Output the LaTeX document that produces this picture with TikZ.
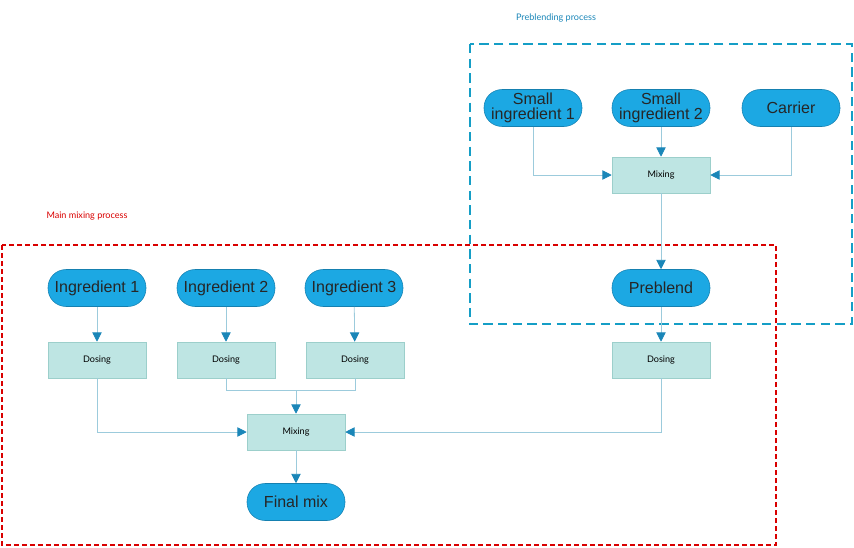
\documentclass[tikz,border=0pt]{standalone}
\usepackage{fontspec}
\setmainfont{Liberation Sans}
\newfontfamily\lato{Lato}
\usetikzlibrary{arrows.meta}
\definecolor{pill}{HTML}{1CA8E3}
\definecolor{pillb}{HTML}{1580B0}
\definecolor{boxf}{HTML}{BEE5E3}
\definecolor{boxb}{HTML}{9CCFCB}
\definecolor{ln}{HTML}{9CCBDC}
\definecolor{arr}{HTML}{1A86B8}
\begin{document}
\begin{tikzpicture}[x=0.75pt,y=-0.75pt,
 pillnode/.style={draw=pillb,fill=pill,rounded corners=13.5pt,minimum width=73.5pt,minimum height=27.75pt,inner sep=0pt,align=center,font=\fontsize{12}{11}\selectfont,text=black!85},
 box/.style={draw=boxb,fill=boxf,minimum width=73.5pt,minimum height=27pt,inner sep=0pt,font=\lato\fontsize{6.8}{8}\selectfont},
 con/.style={draw=ln,line width=0.6pt},
 ar/.style={con,-{Triangle[length=7pt,width=7pt,color=arr]}},
 lab/.style={font=\lato\fontsize{6.8}{8}\selectfont}]
\useasboundingbox (0,0) rectangle (854,547);
\draw[red!85!black,dashed,line width=0.8pt,dash pattern=on 4pt off 2pt] (2,245) rectangle (776,545);
\draw[arr!80!cyan,line width=1.5pt,dash pattern=on 7pt off 4pt] (470,44) rectangle (852,324);
\node[lab,text=red!85!black] (lm) at (87,216) {Main mixing process};
\node[lab,text=arr] (lp) at (556,18) {Preblending process};
\node[pillnode] (s1) at (533,108) {Small\\ingredient 1};
\node[pillnode] (s2) at (661,108) {Small\\ingredient 2};
\node[pillnode] (c) at (791,108) {Carrier};
\node[box] (pm) at (661,175) {Mixing};
\node[pillnode] (pb) at (661,288) {Preblend};
\node[pillnode] (i1) at (97,288) {Ingredient 1};
\node[pillnode] (i2) at (226,288) {Ingredient 2};
\node[pillnode] (i3) at (354,288) {Ingredient 3};
\node[box] (d1) at (97,360) {Dosing};
\node[box] (d2) at (226,360) {Dosing};
\node[box] (d3) at (355,360) {Dosing};
\node[box] (d4) at (661,360) {Dosing};
\node[box] (m) at (296,432) {Mixing};
\node[pillnode] (f) at (296,502) {Final mix};
\coordinate (j) at (296,390);
\draw[ar] (s1.south) |- (pm.west);
\draw[ar] (s2) -- (pm);
\draw[ar] (c.south) |- (pm.east);
\draw[ar] (pm) -- (pb);
\draw[ar] (pb) -- (d4);
\draw[ar] (i1) -- (d1);
\draw[ar] (i2) -- (d2);
\draw[ar] (i3) -- (d3);
\draw[ar] (d1.south) |- (m.west);
\draw[ar] (d4.south) |- (m.east);
\draw[con] (d2.south) |- (j);
\draw[con] (d3.south) |- (j);
\draw[ar] (j) -- (m.north);
\draw[ar] (m) -- (f);
\end{tikzpicture}
\end{document}
